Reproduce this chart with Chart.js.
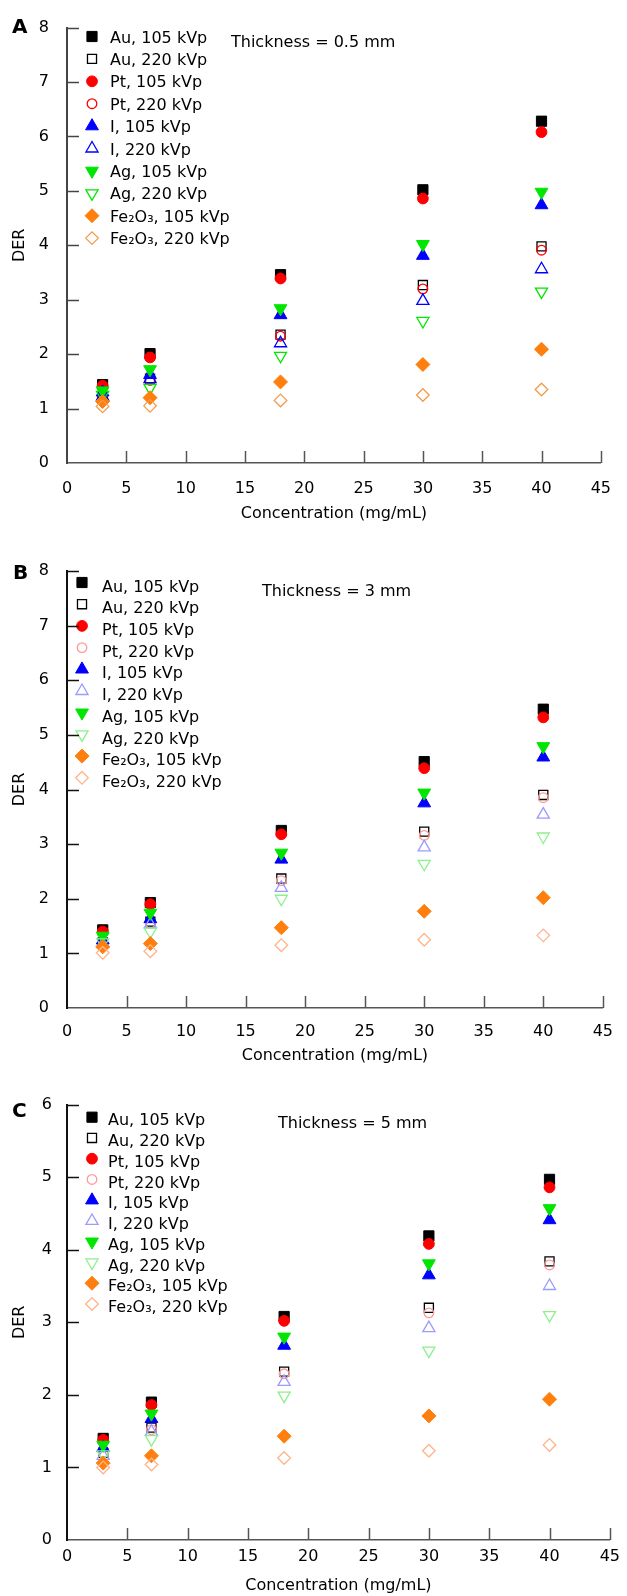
<!DOCTYPE html>
<html>
<head>
<meta charset="utf-8">
<title>DER vs concentration</title>
<script src="https://cdn.jsdelivr.net/npm/chart.js@4.4.1/dist/chart.umd.min.js"></script>
<style>
  html, body { margin: 0; padding: 0; background: #fff; }
  body { width: 627px; height: 1596px; position: relative; overflow: hidden; font-family: "DejaVu Sans", sans-serif; color: #000; }
  canvas { position: absolute; left: 0; }
  .panel-letter { position: absolute; font-weight: bold; font-size: 20px; line-height: 24px; }
  .note { position: absolute; font-size: 16px; line-height: 20px; white-space: nowrap; }
</style>
</head>
<body>
<canvas id="chart-a" width="627" height="530" style="top:0px"></canvas>
<canvas id="chart-b" width="627" height="540" style="top:535px"></canvas>
<canvas id="chart-c" width="627" height="516" style="top:1080px"></canvas>

<div class="panel-letter" style="left:12px;top:14px">A</div>
<div class="panel-letter" style="left:13px;top:560px">B</div>
<div class="panel-letter" style="left:12px;top:1098px">C</div>
<div class="note" style="left:231px;top:32px">Thickness = 0.5 mm</div>
<div class="note" style="left:262px;top:581px">Thickness = 3 mm</div>
<div class="note" style="left:278px;top:1113px">Thickness = 5 mm</div>

<script>
// ============================================
// DATA
// ============================================
const concentrations = [3, 7, 18, 30, 40];
const xTicks = [0, 5, 10, 15, 20, 25, 30, 35, 40, 45];
const seriesLabels = [
  'Au, 105 kVp', 'Au, 220 kVp', 'Pt, 105 kVp', 'Pt, 220 kVp', 'I, 105 kVp',
  'I, 220 kVp', 'Ag, 105 kVp', 'Ag, 220 kVp', 'Fe₂O₃, 105 kVp', 'Fe₂O₃, 220 kVp'
];

// Panel A - thickness 0.5 mm
const aAu105 = [1.44, 2.01, 3.46, 5.02, 6.28];
const aAu220 = [1.20, 1.55, 2.36, 3.27, 3.98];
const aPt105 = [1.42, 1.94, 3.39, 4.86, 6.08];
const aPt220 = [1.25, 1.52, 2.33, 3.20, 3.91];
const aI105 = [1.30, 1.62, 2.72, 3.81, 4.74];
const aI220 = [1.22, 1.54, 2.20, 2.98, 3.56];
const aAg105 = [1.33, 1.72, 2.84, 4.02, 4.98];
const aAg220 = [1.25, 1.38, 1.97, 2.61, 3.15];
const aFe105 = [1.13, 1.20, 1.49, 1.81, 2.09];
const aFe220 = [1.04, 1.05, 1.15, 1.25, 1.35];

// Panel B - thickness 3 mm
const bAu105 = [1.43, 1.93, 3.25, 4.51, 5.47];
const bAu220 = [1.20, 1.58, 2.37, 3.23, 3.90];
const bPt105 = [1.40, 1.90, 3.18, 4.39, 5.32];
const bPt220 = [1.22, 1.55, 2.33, 3.16, 3.85];
const bI105 = [1.24, 1.63, 2.72, 3.75, 4.59];
const bI220 = [1.17, 1.53, 2.20, 2.94, 3.54];
const bAg105 = [1.32, 1.74, 2.84, 3.94, 4.79];
const bAg220 = [1.20, 1.40, 2.00, 2.64, 3.14];
const bFe105 = [1.12, 1.18, 1.47, 1.77, 2.02];
const bFe220 = [1.01, 1.04, 1.15, 1.25, 1.33];

// Panel C - thickness 5 mm
const cAu105 = [1.40, 1.90, 3.08, 4.19, 4.97];
const cAu220 = [1.20, 1.55, 2.32, 3.20, 3.84];
const cPt105 = [1.38, 1.86, 3.02, 4.08, 4.86];
const cPt220 = [1.20, 1.52, 2.29, 3.13, 3.79];
const cI105 = [1.27, 1.67, 2.68, 3.65, 4.41];
const cI220 = [1.16, 1.49, 2.18, 2.92, 3.50];
const cAg105 = [1.31, 1.74, 2.80, 3.81, 4.57];
const cAg220 = [1.18, 1.39, 1.99, 2.61, 3.10];
const cFe105 = [1.06, 1.16, 1.43, 1.71, 1.94];
const cFe220 = [1.00, 1.04, 1.13, 1.23, 1.31];

// ============================================
// MARKER STYLES (one per series, same order as labels)
// ============================================
const FONT = { family: '"DejaVu Sans", sans-serif', size: 16 };

function markerStyles(light) {
  return [
    { shape: 'rect', r: 7.2, fill: '#000000', line: '#000000' },
    { shape: 'rect', r: 6.4, fill: null, line: '#000000' },
    { shape: 'circle', r: 5.4, fill: '#ff0000', line: '#ff0000' },
    { shape: 'circle', r: 4.8, fill: null, line: light ? '#ff9a9a' : '#ff0000' },
    { shape: 'triangle', r: 7.4, fill: '#0000ff', line: '#0000ff' },
    { shape: 'triangle', r: 7, fill: null, line: light ? '#9a9aff' : '#0000ff' },
    { shape: 'triangle', rot: 180, r: 7.4, fill: '#00e600', line: '#00e600' },
    { shape: 'triangle', rot: 180, r: 7, fill: null, line: light ? '#8cf08c' : '#00e600' },
    { shape: 'rectRot', r: 7, fill: '#ff7f0e', line: '#ff7f0e' },
    { shape: 'rectRot', r: 6.3, fill: null, line: light ? '#ffb48c' : '#f59a4a' }
  ];
}

// ============================================
// PLUGINS
// ============================================
// legend drawn inside the plot area, left column
const sideLegend = {
  id: 'sideLegend',
  afterDatasetsDraw(chart, args, opts) {
    const ctx = chart.ctx;
    ctx.save();
    ctx.font = '16px "DejaVu Sans", sans-serif';
    ctx.textBaseline = 'middle';
    ctx.textAlign = 'left';
    chart.data.datasets.forEach((ds, i) => {
      const y = opts.top + i * opts.rowHeight;
      ctx.fillStyle = ds.pointBackgroundColor;
      ctx.strokeStyle = ds.pointBorderColor;
      ctx.lineWidth = ds.pointBorderWidth;
      Chart.helpers.drawPoint(ctx, {
        pointStyle: ds.pointStyle,
        radius: ds.pointRadius,
        rotation: ds.pointRotation,
        borderWidth: ds.pointBorderWidth
      }, opts.markerX, y + opts.markerDy);
      ctx.fillStyle = '#000';
      ctx.fillText(ds.label, opts.textX, y);
    });
    ctx.restore();
  }
};

// tick marks pointing into the plot
const innerTicks = {
  id: 'innerTicks',
  afterDraw(chart, args, opts) {
    const { ctx, chartArea, scales } = chart;
    ctx.save();
    ctx.lineWidth = 1.5;
    ctx.strokeStyle = opts.xColor;
    scales.x.ticks.forEach(t => {
      if (t.value === 0) return;
      const px = Math.round(scales.x.getPixelForValue(t.value)) + 0.5;
      ctx.beginPath();
      ctx.moveTo(px, chartArea.bottom);
      ctx.lineTo(px, chartArea.bottom - opts.length);
      ctx.stroke();
    });
    ctx.strokeStyle = opts.yColor;
    scales.y.ticks.forEach(t => {
      if (t.value === 0) return;
      const py = Math.round(scales.y.getPixelForValue(t.value)) + 0.5;
      ctx.beginPath();
      ctx.moveTo(chartArea.left, py);
      ctx.lineTo(chartArea.left + opts.length, py);
      ctx.stroke();
    });
    ctx.restore();
  }
};

// ============================================
// CHART BUILDER
// ============================================
function buildChart(id, seriesValues, styles, cfg) {
  const datasets = seriesValues.map((values, i) => {
    const s = styles[i];
    return {
      label: seriesLabels[i],
      data: concentrations.map((c, j) => ({ x: c, y: values[j] })),
      pointStyle: s.shape,
      pointRotation: s.rot || 0,
      pointRadius: s.r,
      pointHoverRadius: s.r,
      pointBackgroundColor: s.fill || 'rgba(0,0,0,0)',
      pointBorderColor: s.line,
      pointBorderWidth: s.fill ? 1 : 1.3,
      showLine: false,
      order: seriesValues.length - i
    };
  });

  new Chart(document.getElementById(id), {
    type: 'scatter',
    data: { datasets: datasets },
    options: {
      responsive: false,
      animation: false,
      devicePixelRatio: 1,
      layout: { padding: { top: cfg.padTop, right: 12, left: 0, bottom: 0 } },
      plugins: {
        legend: { display: false },
        tooltip: { enabled: false },
        sideLegend: cfg.legend,
        innerTicks: { length: 12, xColor: '#555', yColor: cfg.yAxisColor }
      },
      scales: {
        x: {
          type: 'linear',
          min: 0,
          max: 45,
          afterBuildTicks: (scale) => { scale.ticks = xTicks.map(v => ({ value: v })); },
          afterFit: (scale) => { scale.height = cfg.xAxisHeight; },
          ticks: { color: '#000', font: FONT, padding: cfg.xTickPad, maxRotation: 0 },
          grid: { display: false, drawTicks: false },
          border: { display: true, color: '#555', width: 1.5 },
          title: {
            display: true,
            text: 'Concentration (mg/mL)',
            color: '#000',
            font: FONT,
            padding: { top: 0, bottom: cfg.xTitlePad }
          }
        },
        y: {
          min: 0,
          max: cfg.yMax,
          afterFit: (scale) => { scale.width = 67; },
          ticks: { stepSize: 1, color: '#000', font: FONT, padding: cfg.yTickPad },
          grid: { display: false, drawTicks: false },
          border: { display: true, color: cfg.yAxisColor, width: 2 },
          title: {
            display: true,
            text: 'DER',
            color: '#000',
            font: FONT,
            padding: { top: 10, bottom: 0 }
          }
        }
      }
    },
    plugins: [sideLegend, innerTicks]
  });
}

// ============================================
// INIT
// ============================================
buildChart('chart-a',
  [aAu105, aAu220, aPt105, aPt220, aI105, aI220, aAg105, aAg220, aFe105, aFe220],
  markerStyles(false),
  {
    padTop: 23, yMax: 8, xAxisHeight: 67, xTickPad: 16, xTitlePad: 7, yTickPad: 18,
    yAxisColor: '#444',
    legend: { top: 38.5, rowHeight: 22.4, markerX: 92, textX: 110, markerDy: -2 }
  });

buildChart('chart-b',
  [bAu105, bAu220, bPt105, bPt220, bI105, bI220, bAg105, bAg220, bFe105, bFe220],
  markerStyles(true),
  {
    padTop: 36, yMax: 8, xAxisHeight: 67, xTickPad: 14, xTitlePad: 10, yTickPad: 18,
    yAxisColor: '#111',
    legend: { top: 52.5, rowHeight: 21.7, markerX: 82, textX: 102, markerDy: -5 }
  });

buildChart('chart-c',
  [cAu105, cAu220, cPt105, cPt220, cI105, cI220, cAg105, cAg220, cFe105, cFe220],
  markerStyles(true),
  {
    padTop: 22, yMax: 6, xAxisHeight: 56, xTickPad: 7, xTitlePad: 1, yTickPad: 15,
    yAxisColor: '#111',
    legend: { top: 41.2, rowHeight: 20.75, markerX: 92, textX: 108, markerDy: -4 }
  });
</script>
</body>
</html>
